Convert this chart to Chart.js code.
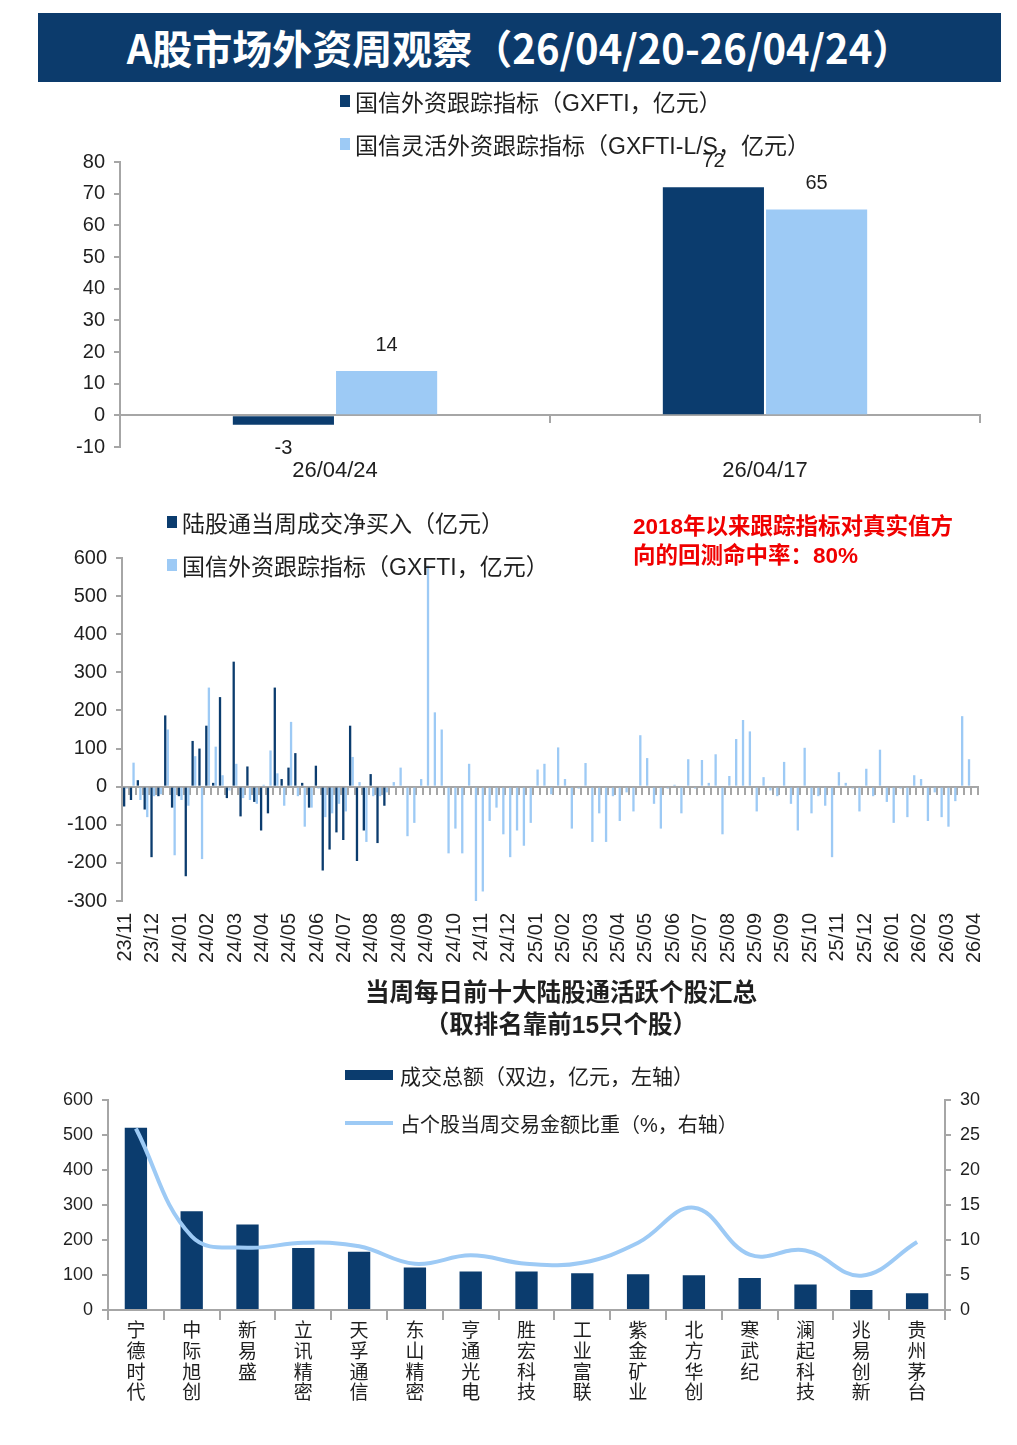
<!DOCTYPE html>
<html lang="zh-CN">
<head>
<meta charset="utf-8">
<title>A股市场外资周观察</title>
<script src="https://cdn.jsdelivr.net/npm/chart.js@4.4.1/dist/chart.umd.min.js"></script>
<style>
  body { margin: 0; background: #fff; }
  #page { position: relative; width: 1017px; height: 1445px; overflow: hidden;
          font-family: "Liberation Sans", "Noto Sans CJK SC", sans-serif; color: #1f1f1f; }
  canvas { position: absolute; left: 0; }
  .row { position: absolute; display: flex; align-items: center; white-space: nowrap; height: 30px; }
  .sq { display: inline-block; width: 10px; height: 12px; margin-right: 5px; }
  .banner { position: absolute; left: 38px; top: 13px; width: 963px; height: 69px; background: #0c3b6c;
            color: #fff; font-weight: bold; font-size: 40px; text-align: center; line-height: 69px;
            font-family: "Noto Sans CJK SC", sans-serif; white-space: nowrap; }
  .note { position: absolute; left: 633px; color: #f00000; font-weight: bold; font-size: 22.5px; white-space: nowrap;
          line-height: 29px; font-family: "Liberation Sans", "Noto Sans CJK SC", sans-serif; }
  .sub { position: absolute; left: 261px; width: 600px; text-align: center; font-weight: bold; font-size: 24.5px;
         line-height: 32px; white-space: nowrap; }
</style>
</head>
<body>
<div id="page">
  <canvas id="topChart" width="1017" height="410" style="top:85px"></canvas>
  <canvas id="weeklyChart" width="1017" height="490" style="top:500px"></canvas>
  <canvas id="stockChart" width="1017" height="350" style="top:1080px"></canvas>

  <div class="banner">A股市场外资周观察（26/04/20-26/04/24）</div>

  <div class="row" style="left:340px; top:86px; font-size:23px;"><span class="sq" style="background:#0b3c6e"></span>国信外资跟踪指标（GXFTI，亿元）</div>
  <div class="row" style="left:340px; top:129px; font-size:23px;"><span class="sq" style="background:#9dcaf5"></span>国信灵活外资跟踪指标（GXFTI-L/S，亿元）</div>

  <div class="row" style="left:167px; top:507px; font-size:23px;"><span class="sq" style="background:#0b3c6e"></span>陆股通当周成交净买入（亿元）</div>
  <div class="row" style="left:167px; top:550px; font-size:23px;"><span class="sq" style="background:#9dcaf5"></span>国信外资跟踪指标（GXFTI，亿元）</div>
  <div class="note" style="top:512px;">2018年以来跟踪指标对真实值方<br>向的回测命中率：80%</div>

  <div class="sub" style="top:977px;">当周每日前十大陆股通活跃个股汇总<br>（取排名靠前15只个股）</div>

  <div class="row" style="left:345px; top:1060px; font-size:21px;"><span style="display:inline-block;width:48px;height:10px;background:#0b3c6e;margin-right:7px"></span>成交总额（双边，亿元，左轴）</div>
  <div class="row" style="left:345px; top:1108px; font-size:20px;"><span style="display:inline-block;width:48px;height:4px;background:#9dcaf5;margin-right:7px"></span>占个股当周交易金额比重（%，右轴）</div>
</div>

<script>
// 最近两周跟踪指标
const recentWeeks = ['26/04/24', '26/04/17'];
const gxftiRecent = [-3, 72];
const gxftiLsRecent = [14, 65];

// 周度序列（每4周一个刻度标签）
const monthTicks = ['23/11', '23/12', '24/01', '24/02', '24/03', '24/04', '24/05', '24/06', '24/07', '24/08',
  '24/08', '24/09', '24/10', '24/11', '24/12', '25/01', '25/02', '25/03', '25/04', '25/05', '25/06', '25/07',
  '25/08', '25/09', '25/09', '25/10', '25/11', '25/12', '26/01', '26/02', '26/03', '26/04'];

// 陆股通当周成交净买入（亿元），数据到24年8月
const northboundNet = [-52, -35, 17, -60, -185, -25, 187, -55, -25, -235,
  120, 100, 160, 10, 235, -30, 328, -78, 53, -40,
  -115, -70, 260, 20, 50, 88, 10, -55, 55, -220,
  -165, -120, -140, 160, -195, -115, 33, -148, -50];

// 国信外资跟踪指标 GXFTI（亿元）
const gxftiWeekly = [-5, 63, -35, -80, -25, -20, 150, -180, -35, -50,
  80, -190, 260, 105, 30, -10, 60, -30, -35, -45,
  5, 95, 35, -50, 170, -25, -105, -55, -5, -80,
  -70, -45, -65, 78, 12, -145, -25, -25, -15, 12,
  50, -130, -95, 20, 580, 195, 150, -175, -110, -175,
  60, -305, -275, -90, -55, -125, -185, -115, -155, -95,
  45, 60, -20, 103, 20, -110, -5, 62, -145, -70,
  -145, -25, -90, -15, -65, 135, 75, -45, -110, -5,
  5, -70, 72, -5, 70, 10, 85, -125, 28, 125,
  175, 145, -65, 25, -10, -25, 65, -45, -115, 102,
  -70, -25, -50, -185, 38, 10, -5, -65, 47, -25,
  97, -40, -95, -5, -80, 30, 20, -90, -15, -80,
  -105, -38, 185, 72, -3];

// 活跃个股
const stockNames = ['宁德时代', '中际旭创', '新易盛', '立讯精密', '天孚通信', '东山精密', '亨通光电', '胜宏科技',
  '工业富联', '紫金矿业', '北方华创', '寒武纪', '澜起科技', '兆易创新', '贵州茅台'];
const turnover = [520, 282, 244, 177, 166, 121, 110, 110, 105, 102, 99, 91, 73, 57, 48];
const weightPct = [25.9, 10.5, 8.9, 9.6, 9.1, 6.6, 7.8, 6.6, 6.75, 9.6, 14.6, 7.9, 8.5, 4.9, 9.7];

const NAVY = '#0b3c6e';
const LIGHT = '#9dcaf5';
const AXIS = '#a6a6a6';

Chart.defaults.font.family = '"Liberation Sans", "Noto Sans CJK SC", sans-serif';
Chart.defaults.color = '#1f1f1f';

// axis line drawn through zero, with tick marks only
function zeroAxis() {
    return {
        type: 'category',
        axis: 'x',
        position: { y: 0 },
        offset: true,
        grid: { offset: true, drawOnChartArea: false, color: AXIS, lineWidth: 2, tickLength: 7 },
        border: { color: AXIS, width: 2 },
        ticks: { display: false }
    };
}

function valueAxis(min, max, step, fontSize, width) {
    return {
        min: min,
        max: max,
        ticks: { stepSize: step, font: { size: fontSize }, padding: 9 },
        grid: { drawOnChartArea: false, color: AXIS, lineWidth: 2, tickLength: 6 },
        border: { color: AXIS, width: 2 },
        afterFit: (s) => { s.width = width; }
    };
}

// value labels above / below the bars
const valueLabels = {
    id: 'valueLabels',
    afterDatasetsDraw(chart) {
        const ctx = chart.ctx;
        ctx.save();
        ctx.font = '20px "Liberation Sans"';
        ctx.fillStyle = '#1f1f1f';
        ctx.textAlign = 'center';
        ctx.textBaseline = 'middle';
        chart.data.datasets.forEach((ds, di) => {
            chart.getDatasetMeta(di).data.forEach((bar, i) => {
                const v = ds.data[i];
                const y = v >= 0 ? bar.y - 26 : bar.y + 24;
                ctx.fillText(String(v), bar.x, y);
            });
        });
        ctx.restore();
    }
};

// Top chart: latest two weeks
new Chart(document.getElementById('topChart'), {
    type: 'bar',
    data: {
        labels: recentWeeks,
        datasets: [
            { label: '国信外资跟踪指标（GXFTI，亿元）', data: gxftiRecent, backgroundColor: NAVY,
              categoryPercentage: 0.48, barPercentage: 0.98 },
            { label: '国信灵活外资跟踪指标（GXFTI-L/S，亿元）', data: gxftiLsRecent, backgroundColor: LIGHT,
              categoryPercentage: 0.48, barPercentage: 0.98 }
        ]
    },
    options: {
        responsive: false,
        animation: false,
        layout: { padding: { left: 60, right: 37, top: 77, bottom: 8 } },
        plugins: { legend: { display: false }, tooltip: { enabled: false } },
        scales: {
            x: {
                grid: { display: false, drawTicks: false },
                border: { display: false },
                ticks: { font: { size: 22 }, padding: 11 },
                afterFit: (s) => { s.height = 40; }
            },
            x0: zeroAxis(),
            y: valueAxis(-10, 80, 10, 20, 60)
        }
    },
    plugins: [valueLabels]
});

// Middle chart: weekly northbound net buy vs GXFTI
const weekLabels = gxftiWeekly.map((v, i) => (i % 4 === 0 ? monthTicks[i / 4] : ''));

new Chart(document.getElementById('weeklyChart'), {
    type: 'bar',
    data: {
        labels: weekLabels,
        datasets: [
            { label: '陆股通当周成交净买入（亿元）', data: northboundNet, backgroundColor: NAVY,
              categoryPercentage: 0.75, barPercentage: 0.9 },
            { label: '国信外资跟踪指标（GXFTI，亿元）', data: gxftiWeekly, backgroundColor: LIGHT,
              categoryPercentage: 0.75, barPercentage: 0.9 }
        ]
    },
    options: {
        responsive: false,
        animation: false,
        layout: { padding: { left: 62, right: 39, top: 58, bottom: 19 } },
        plugins: { legend: { display: false }, tooltip: { enabled: false } },
        scales: {
            x: {
                grid: { display: false, drawTicks: false },
                border: { display: false },
                ticks: { autoSkip: false, minRotation: 90, maxRotation: 90, font: { size: 20 }, padding: 12 },
                afterFit: (s) => { s.height = 70; }
            },
            x0: zeroAxis(),
            y: valueAxis(-300, 600, 100, 20, 60)
        }
    }
});

// Bottom chart: top active stocks
new Chart(document.getElementById('stockChart'), {
    type: 'bar',
    data: {
        labels: stockNames.map((n) => Array.from(n)),
        datasets: [
            { type: 'line', label: '占个股当周交易金额比重（%，右轴）', data: weightPct, yAxisID: 'y1',
              borderColor: LIGHT, borderWidth: 4, pointRadius: 0, tension: 0.4, order: 0 },
            { type: 'bar', label: '成交总额（双边，亿元，左轴）', data: turnover, yAxisID: 'y',
              backgroundColor: NAVY, categoryPercentage: 0.8, barPercentage: 0.5, order: 1 }
        ]
    },
    options: {
        responsive: false,
        animation: false,
        layout: { padding: { left: 53, right: 22, top: 18, bottom: 20 } },
        plugins: { legend: { display: false }, tooltip: { enabled: false } },
        scales: {
            x: {
                grid: { offset: true, drawOnChartArea: false, color: AXIS, lineWidth: 2, tickLength: 10 },
                border: { color: AXIS, width: 2 },
                ticks: { autoSkip: false, maxRotation: 0, font: { size: 19, lineHeight: 1.08 }, padding: 2 },
                afterFit: (s) => { s.height = 100; }
            },
            y: valueAxis(0, 600, 100, 18, 55),
            y1: Object.assign(valueAxis(0, 30, 5, 18, 50), { position: 'right' })
        }
    }
});
</script>
</body>
</html>
